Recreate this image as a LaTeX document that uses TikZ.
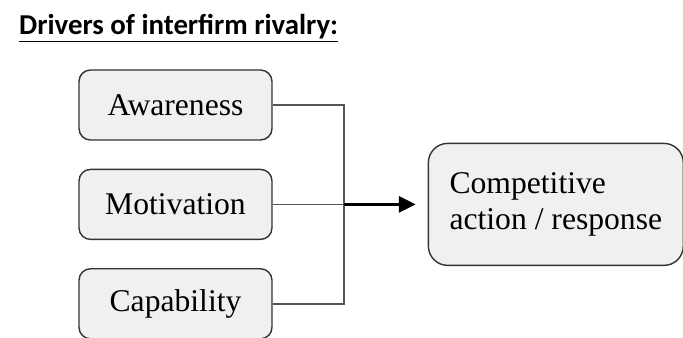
\documentclass[tikz,border=0pt]{standalone}
\usepackage{fontspec}
\setmainfont{Liberation Serif}
\newfontfamily\headfont{Carlito}
\usepackage{xcolor}
\usetikzlibrary{positioning,arrows.meta}
\definecolor{boxfill}{HTML}{F0F0F0}
\definecolor{boxline}{HTML}{333333}
\definecolor{busline}{HTML}{555555}

\begin{document}
\begin{tikzpicture}[
  x=0.02cm, y=-0.02cm,
  node distance=0.56cm and 3.1cm,
  driver/.style={draw=boxline, fill=boxfill, rounded corners=6.5pt, minimum width=3.86cm, minimum height=1.4cm, font=\fontsize{18}{21}\selectfont, line width=0.8pt},
  outcome/.style={driver, rounded corners=11pt, minimum width=5.1cm, minimum height=2.44cm, align=left},
  bus/.style={draw=busline, line width=0.9pt},
  arr/.style={-{Triangle[length=9.5pt, width=9pt]}, line width=1.6pt, shorten >=0.24cm},
]
\useasboundingbox (0,0) rectangle (683,338);

% Heading
\node[anchor=base west, font=\headfont\bfseries\fontsize{16.4}{19}\selectfont] (title) at (13,34) {\underline{Drivers of interfirm rivalry:}};

% Drivers
\node[driver] (aware) at (175.5,105) {Awareness};
\node[driver, below=of aware] (motiv) {Motivation};
\node[driver, below=of motiv] (capab) {Capability};

% Outcome
\node[outcome, right=of motiv] (resp) {Competitive\\action / response};

% Bus and arrow
\coordinate (bus) at (344,0);
\draw[bus] (aware.east) -- (aware.east -| bus) -- (capab.east -| bus) -- (capab.east);
\draw[bus] (motiv.east) -- (motiv.east -| bus);
\draw[arr] (motiv.east -| bus) -- (resp.west);
\end{tikzpicture}
\end{document}
